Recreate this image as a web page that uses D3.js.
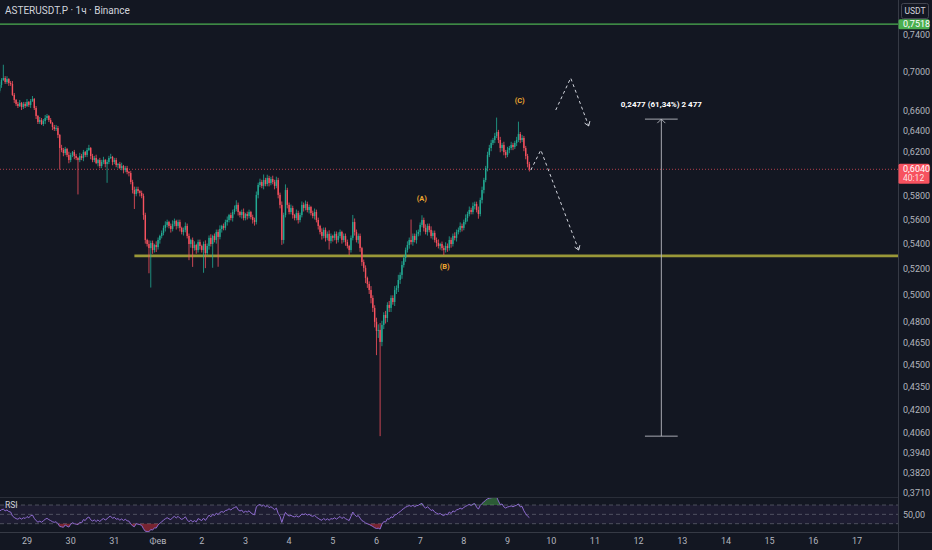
<!DOCTYPE html>
<html><head><meta charset="utf-8">
<script src="https://cdn.jsdelivr.net/npm/d3@7/dist/d3.min.js"></script>
<style>html,body{margin:0;padding:0;background:#131722;overflow:hidden}</style>
</head><body><svg id="c" width="932" height="550"></svg>
<script>
// ---- data (1h candles, first candle Jan 28 09:00) ----
const firstOpen = 0.6800;
const closes = [
0.6860,0.6911,0.6932,0.6890,0.6921,0.6880,0.6870,0.6757,0.6706,0.6666,
0.6645,0.6676,0.6635,0.6666,0.6645,0.6686,0.6656,0.6696,0.6716,0.6625,
0.6546,0.6487,0.6506,0.6467,0.6496,0.6526,0.6546,0.6506,0.6477,0.6438,
0.6419,0.6428,0.6361,0.6237,0.6218,0.6190,0.6228,0.6172,0.6125,0.6172,
0.6199,0.6162,0.6144,0.6125,0.6162,0.6144,0.6199,0.6172,0.6218,0.6237,
0.6162,0.6125,0.6144,0.6097,0.6125,0.6070,0.6107,0.6125,0.6088,0.6107,
0.6144,0.6153,0.6107,0.6125,0.6079,0.6088,0.6051,0.6070,0.6033,0.6051,
0.6015,0.6006,0.5925,0.5854,0.5819,0.5863,0.5845,0.5828,0.5802,0.5637,
0.5429,0.5396,0.5363,0.5404,0.5347,0.5388,0.5371,0.5429,0.5462,0.5487,
0.5529,0.5554,0.5578,0.5545,0.5520,0.5562,0.5587,0.5545,0.5578,0.5529,
0.5495,0.5512,0.5545,0.5462,0.5396,0.5429,0.5363,0.5388,0.5347,0.5412,
0.5380,0.5347,0.5396,0.5323,0.5380,0.5446,0.5396,0.5462,0.5429,0.5495,
0.5454,0.5520,0.5545,0.5529,0.5578,0.5595,0.5637,0.5612,0.5663,0.5689,
0.5724,0.5663,0.5637,0.5663,0.5612,0.5646,0.5629,0.5663,0.5620,0.5595,
0.5578,0.5811,0.5899,0.5925,0.5890,0.5943,0.5907,0.5961,0.5916,0.5952,
0.5925,0.5890,0.5943,0.5811,0.5724,0.5429,0.5637,0.5854,0.5724,0.5663,
0.5697,0.5637,0.5612,0.5654,0.5595,0.5637,0.5724,0.5697,0.5732,0.5680,
0.5706,0.5654,0.5629,0.5663,0.5595,0.5545,0.5495,0.5462,0.5512,0.5446,
0.5479,0.5421,0.5462,0.5446,0.5479,0.5429,0.5462,0.5495,0.5429,0.5462,
0.5412,0.5380,0.5347,0.5446,0.5578,0.5495,0.5429,0.5462,0.5363,0.5251,
0.5205,0.5127,0.5080,0.5034,0.4974,0.4900,0.4798,0.4733,0.4740,0.4655,
0.4776,0.4848,0.4826,0.4922,0.4900,0.4974,0.4944,0.5034,0.5049,0.5111,
0.5150,0.5228,0.5283,0.5347,0.5388,0.5429,0.5412,0.5462,0.5429,0.5479,
0.5495,0.5554,0.5595,0.5529,0.5495,0.5545,0.5512,0.5462,0.5487,0.5429,
0.5404,0.5380,0.5396,0.5363,0.5347,0.5380,0.5363,0.5429,0.5396,0.5462,
0.5446,0.5495,0.5512,0.5545,0.5529,0.5578,0.5612,0.5646,0.5680,0.5663,
0.5715,0.5732,0.5680,0.5646,0.5767,0.5854,0.5943,0.6051,0.6172,0.6237,
0.6285,0.6313,0.6351,0.6390,0.6313,0.6237,0.6266,0.6199,0.6172,0.6218,
0.6237,0.6266,0.6247,0.6285,0.6313,0.6370,0.6313,0.6332,0.6237,0.6162,
0.6088,0.6040];
// upper / lower wick length beyond the body, in thousandths of USDT
const wickUp = [
3,2,14,2,3,1,2,3,2,1, 2,3,1,2,2,3,1,2,3,1, 2,1,3,2,2,3,2,1,2,1, 2,3,2,1,3,2,2,1,3,2,
1,2,2,1,3,2,2,1,2,3, 1,2,2,3,1,2,2,3,1,2, 2,3,1,2,2,1,2,3,1,2, 2,1,2,2,3,2,2,1,2,2,
2,1,3,2,2,1,3,2,1,2, 2,3,2,1,2,3,2,1,2,2, 1,2,3,2,2,1,2,3,1,2, 2,1,2,3,2,2,3,1,2,2,
2,3,1,2,2,3,1,2,2,3, 4,2,1,2,3,1,2,2,1,2, 2,3,2,3,2,5,2,3,2,2, 3,2,3,2,2,3,2,5,2,2,
3,2,1,3,2,2,3,2,3,2, 2,1,2,3,2,2,1,3,2,2, 2,3,2,1,2,2,3,2,1,2, 2,2,1,2,6,3,2,2,2,1,
2,2,1,2,3,2,2,3,4,5, 3,2,3,2,3,2,2,3,2,4, 2,3,2,2,3,2,17,2,2,3, 2,2,4,2,3,2,2,3,2,2,
2,3,1,2,2,3,2,3,2,2, 3,2,2,3,2,2,3,2,3,2, 3,2,2,3,2,3,2,2,3,3, 3,2,3,14,2,3,2,3,2,3,
2,3,2,2,3,12,2,3,2,2, 2,2];
const wickDn = [
2,3,1,2,2,3,2,1,3,2, 2,1,3,2,2,1,2,3,1,2, 3,2,2,1,2,3,2,2,1,3, 2,2,3,20,2,3,2,2,3,2,
2,3,2,31,2,2,3,2,2,1, 3,2,2,1,3,2,2,2,3,17, 2,1,3,2,2,3,1,2,3,2, 2,3,2,3,13,2,2,3,2,4,
3,2,20,31,3,2,4,2,3,2, 2,3,2,2,3,2,2,3,2,3, 2,3,2,2,13,3,15,2,3,2, 3,2,18,12,2,3,2,19,2,3,
24,2,3,2,2,3,2,2,3,2, 2,3,2,3,2,2,3,2,2,3, 3,2,3,2,2,3,2,2,3,2, 2,3,2,3,3,4,3,2,3,2,
2,3,2,2,3,2,2,3,2,2, 3,2,2,3,2,3,2,3,2,3, 2,7,2,3,2,3,2,2,3,2, 3,2,4,2,2,3,2,3,3,3,
3,4,3,3,4,3,4,17,5,61.7, 3,3,4,3,3,3,2,3,3,3, 3,3,2,3,2,3,2,3,2,3, 2,3,2,3,2,3,2,2,3,2,
3,2,3,2,4,2,3,2,3,2, 2,3,2,2,3,2,2,3,2,2, 2,3,2,4,2,3,3,2,3,2, 3,2,3,2,3,4,3,3,3,2,
3,2,3,2,3,2,3,2,3,3, 3,2];
// RSI state carried in from the hours before the visible window (avg gain / avg loss)
const rsiSeedGain = 0.0030, rsiSeedLoss = 0.0026;
const startHour = -15;           // hours relative to Jan 29 00:00
const dayLabels = ["29","30","31","Фев","2","3","4","5","6","7","8","9","10","11","12","13","14","15","16","17"];
const priceTicks = [0.74,0.70,0.66,0.64,0.62,0.58,0.56,0.54,0.52,0.50,0.48,0.465,0.45,0.435,0.42,0.406,0.394,0.382,0.371];
const resistance = 0.7518;
const support = 0.530;
const supportStartHour = 59;
const lastPrice = 0.6040;
const countdown = "40:12";
const measureFrom = 0.4038, measureTo = 0.6515, measureHour = 348.5;
const measureLabel = "0,2477 (61,34%) 2 477";
const path1Hours = [290.5,298.7,308.6], path1Prices = [0.6605,0.6932,0.6448];
const path2Hours = [276.8,282.3,303.1], path2Prices = [0.6033,0.6218,0.5347];
const waveLabels = ["(A)","(B)","(C)"], waveHours = [216.9,229.5,270.7], wavePrices = [0.5784,0.5220,0.6706];
const rsiLevels = [70,50,30];

// ---- layout ----
const W = 932, H = 550, PR = 898, MAIN_B = 497, RSI_T = 497, RSI_B = 532;
const UP = "#22ab94", DN = "#f7525f", TXT = "#b2b5be", LINE = "#2a2e39";
const svg = d3.select("#c");
const fmt = v => d3.format(".4f")(v).replace(".", ",");

const x = d3.scaleLinear().domain([0, 19*24]).range([27, 857]);
const y = d3.scaleLog().domain([0.74, 0.371]).range([34.7, 492.3]);
const yr = d3.scaleLinear().domain([30, 70]).range([523.7, 505]);

svg.append("rect").attr("width", W).attr("height", H).attr("fill", "#131722");
const defs = svg.append("defs");
defs.append("clipPath").attr("id","mainClip").append("rect").attr("x",0).attr("y",0).attr("width",PR).attr("height",MAIN_B);
defs.append("clipPath").attr("id","rsiClip").append("rect").attr("x",0).attr("y",RSI_T).attr("width",PR).attr("height",RSI_B-RSI_T);

// candles
const candles = closes.map((c, i) => {
  const o = i === 0 ? firstOpen : closes[i-1];
  return {h: startHour + i, o, c, hi: Math.max(o,c) + wickUp[i]/1000, lo: Math.min(o,c) - wickDn[i]/1000};
});
const main = svg.append("g").attr("clip-path","url(#mainClip)");

// horizontal levels
main.append("line").attr("x1",0).attr("x2",PR).attr("y1",y(resistance)).attr("y2",y(resistance))
  .attr("stroke","#4caf50").attr("stroke-width",1.2);
main.append("line").attr("x1",x(supportStartHour)).attr("x2",PR).attr("y1",y(support)).attr("y2",y(support))
  .attr("stroke","#9a9838").attr("stroke-width",2.6);
main.append("line").attr("x1",0).attr("x2",PR).attr("y1",y(lastPrice)).attr("y2",y(lastPrice))
  .attr("stroke","#f7525f").attr("stroke-opacity",0.7).attr("stroke-width",1).attr("stroke-dasharray","1,2");

const cg = main.append("g");
cg.selectAll("line.w").data(candles).join("line").attr("class","w")
  .attr("x1", d => x(d.h)).attr("x2", d => x(d.h))
  .attr("y1", d => y(d.hi)).attr("y2", d => y(d.lo))
  .attr("stroke", d => d.c >= d.o ? UP : DN).attr("stroke-width", 0.8);
cg.selectAll("rect.b").data(candles).join("rect").attr("class","b")
  .attr("x", d => x(d.h) - 0.7).attr("width", 1.4)
  .attr("y", d => y(Math.max(d.o,d.c)))
  .attr("height", d => Math.max(0.8, y(Math.min(d.o,d.c)) - y(Math.max(d.o,d.c))))
  .attr("fill", d => d.c >= d.o ? UP : DN);

// wave labels
main.selectAll("text.wave").data(waveLabels).join("text").attr("class","wave")
  .attr("x", (d,i) => x(waveHours[i])).attr("y", (d,i) => y(wavePrices[i]) + 3)
  .attr("text-anchor","middle").attr("fill","#f0a830").attr("font-family","Roboto, sans-serif")
  .attr("font-size", 7.5).attr("font-weight","bold").text(d => d);

// dashed projections with arrowheads
function dashedPath(hours, prices){
  const pts = hours.map((h,i) => [x(h), y(prices[i])]);
  main.append("path").attr("d", d3.line()(pts)).attr("fill","none")
    .attr("stroke","#d1d4dc").attr("stroke-width",1).attr("stroke-dasharray","3,3");
  const p = pts[pts.length-1], q = pts[pts.length-2];
  const a = Math.atan2(p[1]-q[1], p[0]-q[0]);
  const L = 5;
  const ah = [[p[0]-L*Math.cos(a-0.6), p[1]-L*Math.sin(a-0.6)], p, [p[0]-L*Math.cos(a+0.6), p[1]-L*Math.sin(a+0.6)]];
  main.append("path").attr("d", d3.line()(ah)).attr("fill","none").attr("stroke","#d1d4dc").attr("stroke-width",1);
}
dashedPath(path1Hours, path1Prices);
dashedPath(path2Hours, path2Prices);

// measurement tool
const mx = x(measureHour), myT = y(measureTo), myB = y(measureFrom);
const mg = main.append("g").attr("stroke","#b8bac2").attr("stroke-width",0.9);
mg.append("line").attr("x1",mx).attr("x2",mx).attr("y1",myT).attr("y2",myB);
mg.append("line").attr("x1",x(measureHour-9)).attr("x2",x(measureHour+9)).attr("y1",myT).attr("y2",myT);
mg.append("line").attr("x1",x(measureHour-9)).attr("x2",x(measureHour+9)).attr("y1",myB).attr("y2",myB);
mg.append("path").attr("fill","none").attr("d", d3.line()([[mx-4,myT+4],[mx,myT],[mx+4,myT+4]]));
main.append("text").attr("x", mx).attr("y", myT - 12).attr("text-anchor","middle")
  .attr("fill","#ffffff").attr("font-family","Roboto, sans-serif").attr("font-size",8).attr("font-weight","bold")
  .text(measureLabel);

// ---- RSI pane ----
const rsi = [];
{
  const N = 14; let ag = rsiSeedGain, al = rsiSeedLoss;
  for (let i = 0; i < closes.length; i++) {
    const prev = i === 0 ? firstOpen : closes[i-1];
    const ch = closes[i] - prev, g = Math.max(ch,0), l = Math.max(-ch,0);
    ag = (ag*(N-1) + g)/N; al = (al*(N-1) + l)/N;
    rsi.push({h: startHour + i, v: al === 0 ? 100 : 100 - 100/(1 + ag/al)});
  }
}
const rg = svg.append("g").attr("clip-path","url(#rsiClip)");
rg.append("rect").attr("x",0).attr("width",PR).attr("y",yr(70)).attr("height",yr(30)-yr(70)).attr("fill","rgba(126,87,194,0.10)");
rsiLevels.forEach(l => rg.append("line").attr("x1",0).attr("x2",PR).attr("y1",yr(l)).attr("y2",yr(l))
  .attr("stroke","#787b86").attr("stroke-opacity",0.7).attr("stroke-width",0.8).attr("stroke-dasharray","4,3"));
rg.append("path").datum(rsi).attr("fill","rgba(76,175,80,0.45)")
  .attr("d", d3.area().x(d => x(d.h)).y0(yr(70)).y1(d => yr(Math.max(70, d.v))));
rg.append("path").datum(rsi).attr("fill","rgba(242,54,69,0.45)")
  .attr("d", d3.area().x(d => x(d.h)).y0(yr(30)).y1(d => yr(Math.min(30, d.v))));
rg.append("path").datum(rsi).attr("fill","none").attr("stroke","#8e6bd0").attr("stroke-width",1)
  .attr("d", d3.line().x(d => x(d.h)).y(d => yr(d.v)));
svg.append("text").attr("x",5).attr("y",508).attr("fill","#d1d4dc").attr("font-family","Roboto, sans-serif").attr("font-size",8.5).text("RSI");

// ---- frame lines ----
svg.append("line").attr("x1",0).attr("x2",PR).attr("y1",RSI_T+0.5).attr("y2",RSI_T+0.5).attr("stroke",LINE).attr("stroke-width",1);
svg.append("line").attr("x1",0).attr("x2",W).attr("y1",RSI_B+0.5).attr("y2",RSI_B+0.5).attr("stroke","#363a45").attr("stroke-width",1);
svg.append("line").attr("x1",PR+0.5).attr("x2",PR+0.5).attr("y1",0).attr("y2",H).attr("stroke","#363a45").attr("stroke-width",1);

// ---- right price axis ----
const ax = svg.append("g").attr("font-family","Roboto, sans-serif").attr("font-size",9).attr("fill",TXT);
ax.selectAll("text.t").data(priceTicks).join("text").attr("class","t")
  .attr("x",903).attr("y", d => y(d) + 3.2).text(d => fmt(d));
ax.append("text").attr("x",903).attr("y",yr(50)+3.2).text("50,00");
// resistance label
svg.append("rect").attr("x",898.5).attr("y",y(resistance)-5).attr("width",31).attr("height",10).attr("rx",1.5).attr("fill","#4caf50");
svg.append("text").attr("x",903).attr("y",y(resistance)+3.2).attr("fill","#fff").attr("font-family","Roboto, sans-serif").attr("font-size",9).text(fmt(resistance));
// last price label
svg.append("rect").attr("x",898.5).attr("y",y(lastPrice)-5.5).attr("width",31).attr("height",20).attr("rx",1.5).attr("fill","#f7525f");
svg.append("text").attr("x",903).attr("y",y(lastPrice)+3).attr("fill","#fff").attr("font-family","Roboto, sans-serif").attr("font-size",9).text(fmt(lastPrice));
svg.append("text").attr("x",903).attr("y",y(lastPrice)+12).attr("fill","#fff").attr("fill-opacity",0.85).attr("font-family","Roboto, sans-serif").attr("font-size",8.5).text(countdown);
// currency box
svg.append("rect").attr("x",901.5).attr("y",3.5).attr("width",27).attr("height",15).attr("rx",2).attr("fill","#131722").attr("stroke","#434651");
svg.append("text").attr("x",915).attr("y",14).attr("text-anchor","middle").attr("fill","#d1d4dc").attr("font-family","Roboto, sans-serif").attr("font-size",8.5).text("USDT");

// ---- time axis ----
svg.append("g").selectAll("text").data(dayLabels).join("text")
  .attr("x", (d,i) => x(i*24)).attr("y", 544).attr("text-anchor","middle")
  .attr("fill",TXT).attr("font-family","Roboto, sans-serif").attr("font-size",9).text(d => d);

// title
svg.append("text").attr("x",5).attr("y",14).attr("fill","#d1d4dc").attr("font-family","Roboto, sans-serif").attr("font-size",10)
  .text("ASTERUSDT.P · 1ч · Binance");
</script></body></html>
